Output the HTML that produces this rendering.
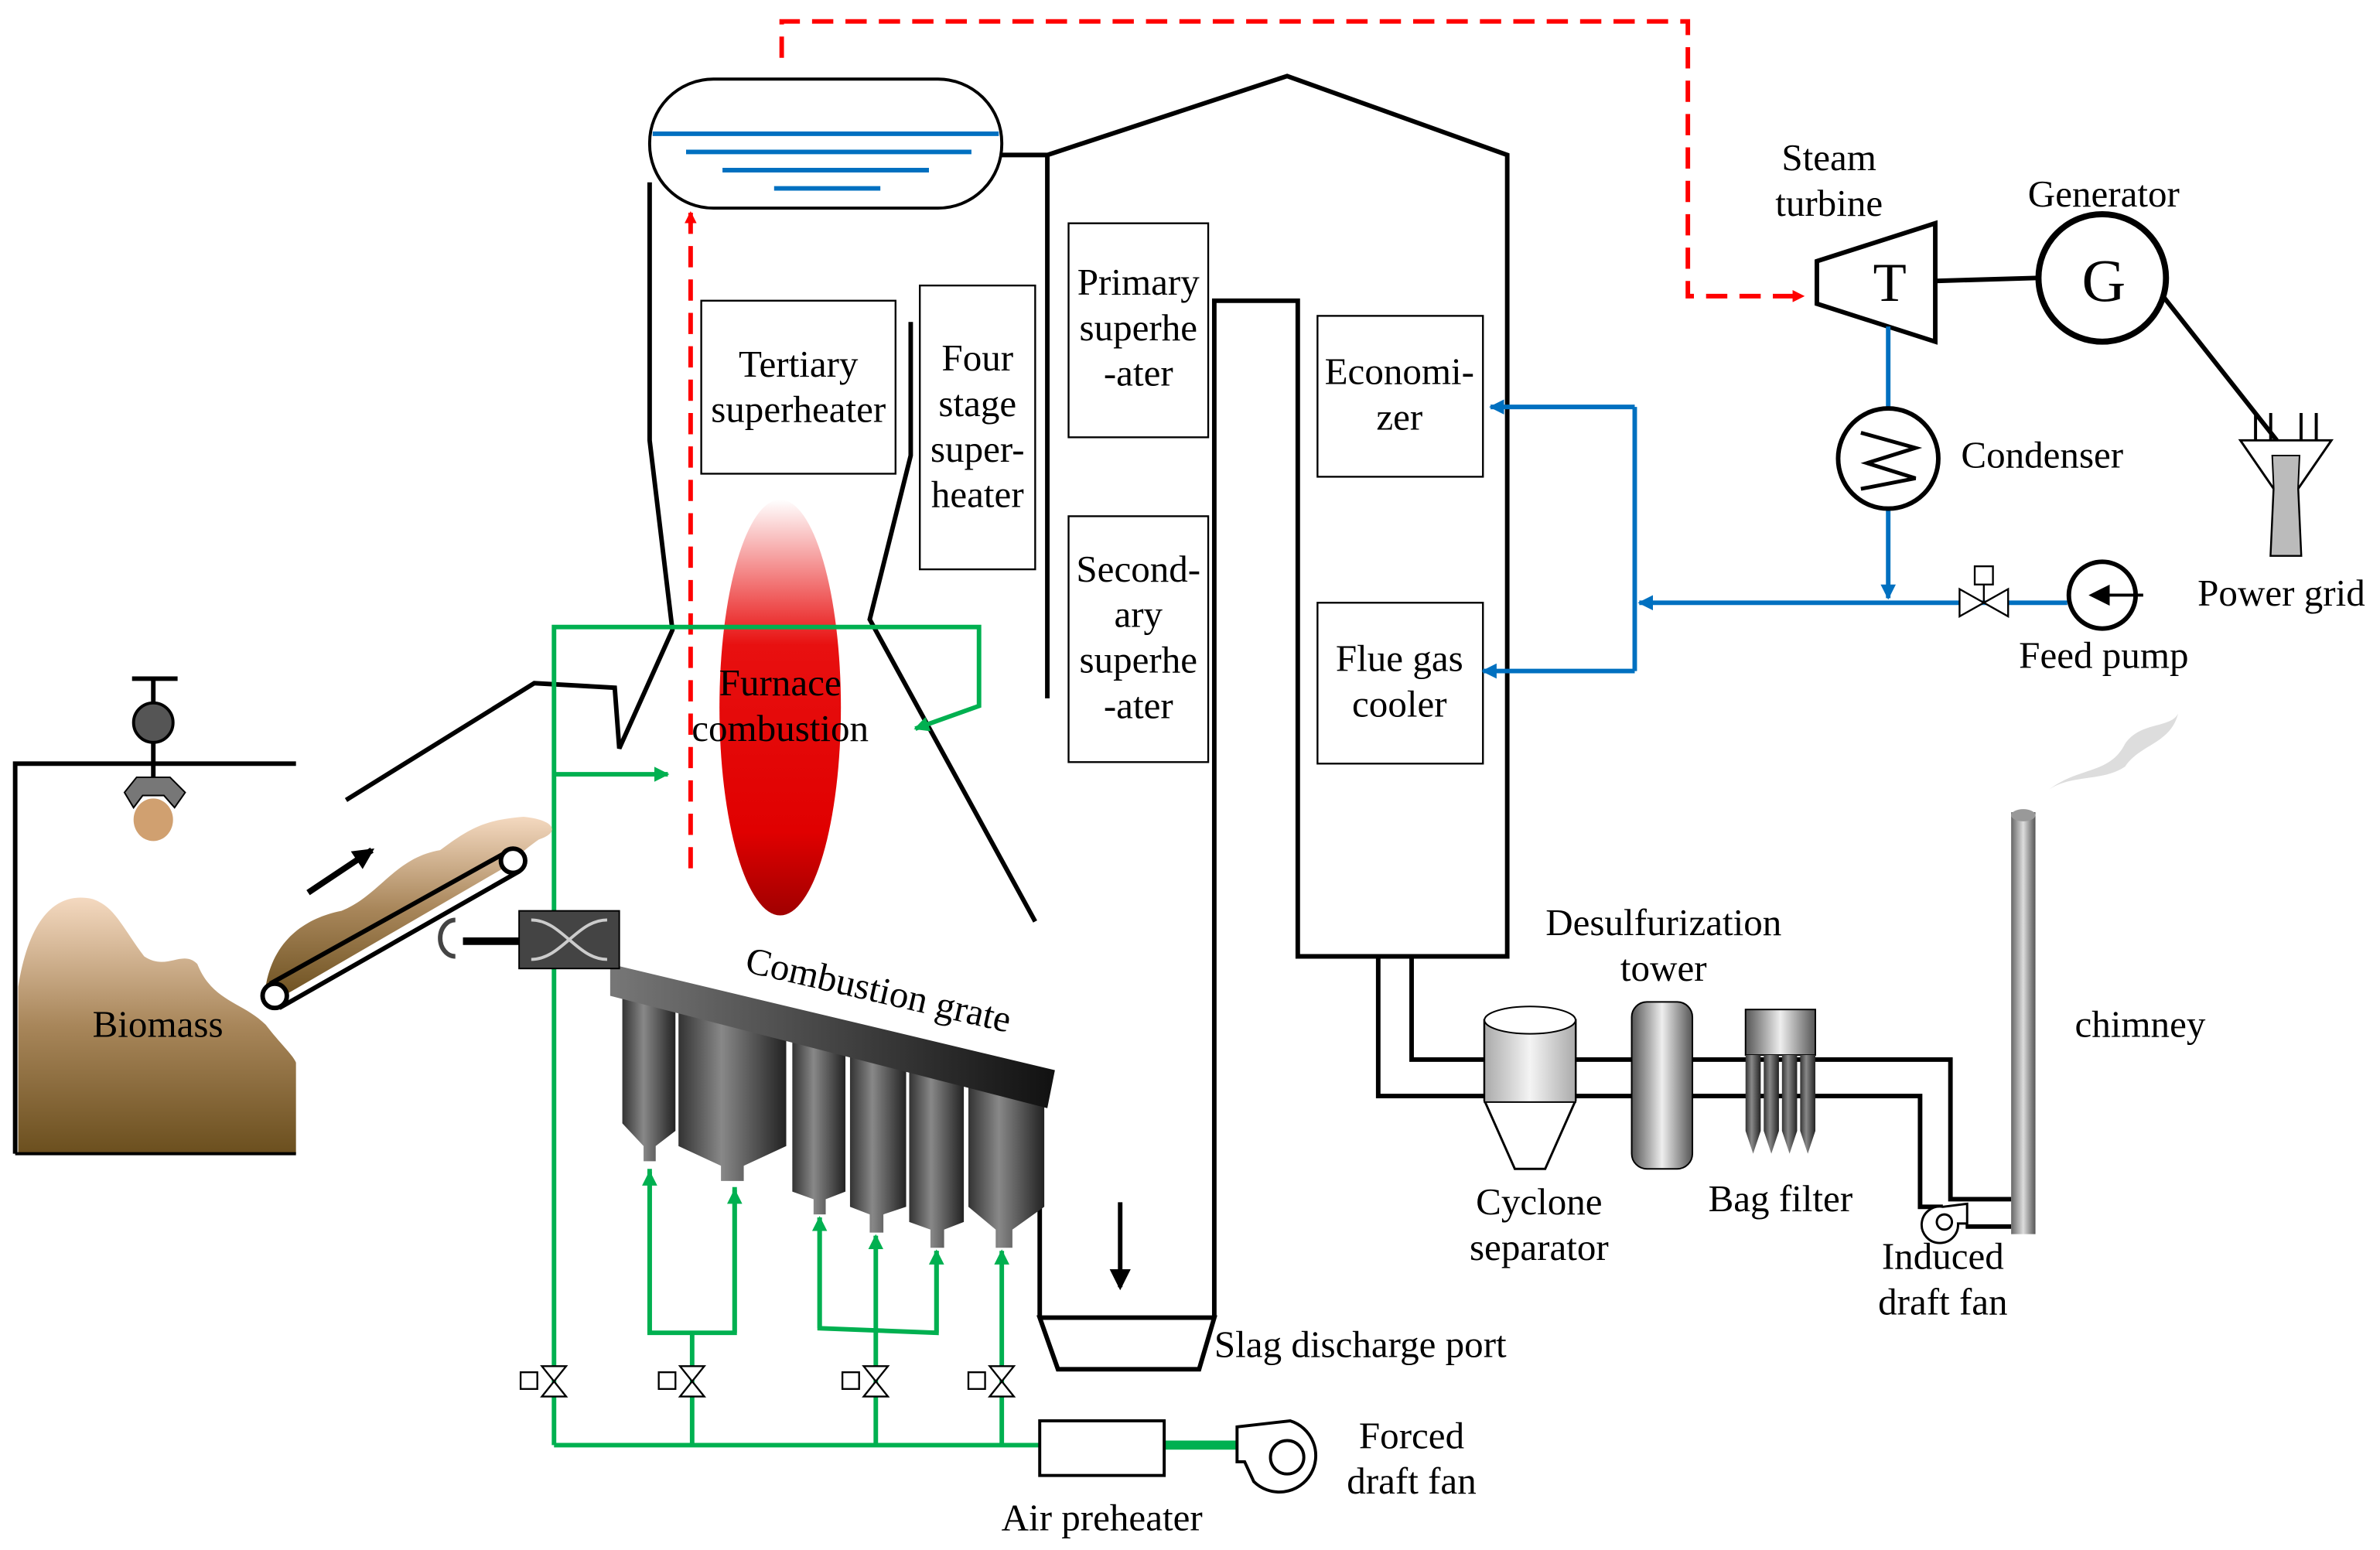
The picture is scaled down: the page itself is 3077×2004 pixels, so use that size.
<!DOCTYPE html>
<html><head><meta charset="utf-8"><style>html,body{margin:0;padding:0;background:#fff}svg{display:block}text{font-family:"Liberation Serif",serif;font-size:25px;fill:#000}</style></head><body>
<svg width="3077" height="2004" viewBox="0 0 1568 1021" xmlns="http://www.w3.org/2000/svg">
<defs>
<linearGradient id="fl" x1="0" y1="0" x2="0" y2="1"><stop offset="0" stop-color="#fff"/><stop offset="0.35" stop-color="#e81010"/><stop offset="0.8" stop-color="#e00000"/><stop offset="1" stop-color="#a00000"/></linearGradient>
<linearGradient id="hop" x1="0" y1="0" x2="1" y2="0"><stop offset="0" stop-color="#333"/><stop offset="0.4" stop-color="#888"/><stop offset="1" stop-color="#222"/></linearGradient>
<linearGradient id="gr" x1="0" y1="0" x2="1" y2="0"><stop offset="0" stop-color="#777"/><stop offset="1" stop-color="#111"/></linearGradient>
<linearGradient id="bio" x1="0" y1="0" x2="0" y2="1"><stop offset="0" stop-color="#f4d9c0"/><stop offset="0.5" stop-color="#a8865a"/><stop offset="1" stop-color="#6b4f1e"/></linearGradient>
<linearGradient id="ch" x1="0" y1="0" x2="1" y2="0"><stop offset="0" stop-color="#666"/><stop offset="0.5" stop-color="#ddd"/><stop offset="1" stop-color="#555"/></linearGradient>
<linearGradient id="cyl" x1="0" y1="0" x2="1" y2="0"><stop offset="0" stop-color="#555"/><stop offset="0.5" stop-color="#eee"/><stop offset="1" stop-color="#555"/></linearGradient>
<linearGradient id="cyl2" x1="0" y1="0" x2="1" y2="0"><stop offset="0" stop-color="#aaa"/><stop offset="0.5" stop-color="#f4f4f4"/><stop offset="1" stop-color="#aaa"/></linearGradient>
<marker id="ar" markerWidth="8" markerHeight="8" refX="7" refY="4" orient="auto" markerUnits="userSpaceOnUse"><path d="M0,0 L8,4 L0,8z" fill="#f00"/></marker>
<marker id="ag" markerWidth="10" markerHeight="10" refX="9" refY="5" orient="auto" markerUnits="userSpaceOnUse"><path d="M0,0 L10,5 L0,10z" fill="#00b050"/></marker>
<marker id="ab" markerWidth="10" markerHeight="10" refX="9" refY="5" orient="auto" markerUnits="userSpaceOnUse"><path d="M0,0 L10,5 L0,10z" fill="#0070c0"/></marker>
<marker id="ak" markerWidth="14" markerHeight="14" refX="12" refY="7" orient="auto" markerUnits="userSpaceOnUse"><path d="M0,0 L14,7 L0,14z" fill="#000"/></marker>
</defs>
<polyline points="515,38 515,14 1112,14 1112,195 1188,195" fill="none" stroke="#f00" stroke-width="3" stroke-dasharray="14,8" marker-end="url(#ar)"/>
<ellipse cx="514" cy="466" rx="40" ry="137" fill="url(#fl)"/>
<line x1="455" y1="572" x2="455" y2="140" stroke="#f00" stroke-width="3" stroke-dasharray="14,8" marker-end="url(#ar)"/>
<rect x="428" y="52" width="232" height="85" rx="42" fill="none" stroke="#000" stroke-width="2"/>
<g stroke="#0070c0" stroke-width="3"><line x1="430" y1="88" x2="658" y2="88"/><line x1="452" y1="100" x2="640" y2="100"/><line x1="476" y1="112" x2="612" y2="112"/><line x1="510" y1="124" x2="580" y2="124"/></g>
<g fill="none" stroke="#000" stroke-width="3">
<polyline points="428,120 428,290 443,415 408,493 405,453 352,450 228,527"/>
<polyline points="600,212 600,300 573,408 682,607"/>
<polyline points="660,102 690,102 848,50 993,102 993,630 855,630 855,198 800,198 800,868"/>
<line x1="690" y1="102" x2="690" y2="460"/>
<line x1="685" y1="725" x2="685" y2="868"/>
<polygon points="685,868 800,868 790,902 697,902"/>
</g>
<line x1="738" y1="792" x2="738" y2="848" stroke="#000" stroke-width="3" marker-end="url(#ak)"/>
<g fill="#fff" stroke="#000" stroke-width="1.2">
<rect x="462" y="198" width="128" height="114"/><rect x="606" y="188" width="76" height="187"/>
<rect x="704" y="147" width="92" height="141"/><rect x="704" y="340" width="92" height="162"/>
<rect x="868" y="208" width="109" height="106"/><rect x="868" y="397" width="109" height="106"/>
</g>
<g text-anchor="middle">
<text x="526" y="248">Tertiary</text><text x="526" y="278">superheater</text>
<text x="644" y="244">Four</text><text x="644" y="274">stage</text><text x="644" y="304">super-</text><text x="644" y="334">heater</text>
<text x="750" y="194">Primary</text><text x="750" y="224">superhe</text><text x="750" y="254">-ater</text>
<text x="750" y="383">Second-</text><text x="750" y="413">ary</text><text x="750" y="443">superhe</text><text x="750" y="473">-ater</text>
<text x="922" y="253">Economi-</text><text x="922" y="283">zer</text>
<text x="922" y="442">Flue gas</text><text x="922" y="472">cooler</text>
<text x="514" y="458">Furnace</text><text x="514" y="488">combustion</text>
</g>
<g fill="none" stroke="#00b050" stroke-width="3">
<polyline points="365,952 365,413 645,413 645,465 603,480" marker-end="url(#ag)"/>
<line x1="365" y1="510" x2="440" y2="510" marker-end="url(#ag)"/>
<line x1="365" y1="952" x2="685" y2="952"/>
<line x1="767" y1="952" x2="815" y2="952" stroke-width="6"/>
<line x1="456" y1="952" x2="456" y2="878"/><polyline points="428,770 428,878 484,878 484,782"/>
<line x1="428" y1="878" x2="428" y2="772" marker-end="url(#ag)"/><line x1="484" y1="878" x2="484" y2="784" marker-end="url(#ag)"/>
<line x1="577" y1="952" x2="577" y2="814" marker-end="url(#ag)"/>
<polyline points="540,802 540,875 617,878 617,824"/>
<line x1="540" y1="875" x2="540" y2="802" marker-end="url(#ag)"/><line x1="617" y1="878" x2="617" y2="824" marker-end="url(#ag)"/>
<line x1="660" y1="952" x2="660" y2="824" marker-end="url(#ag)"/>
</g>
<g fill="#fff" stroke="#000" stroke-width="1.2">
<g transform="translate(365,910)"><polygon points="-8,-10 8,-10 -8,10 8,10"/><rect x="-22" y="-6" width="11" height="11"/></g>
<g transform="translate(456,910)"><polygon points="-8,-10 8,-10 -8,10 8,10"/><rect x="-22" y="-6" width="11" height="11"/></g>
<g transform="translate(577,910)"><polygon points="-8,-10 8,-10 -8,10 8,10"/><rect x="-22" y="-6" width="11" height="11"/></g>
<g transform="translate(660,910)"><polygon points="-8,-10 8,-10 -8,10 8,10"/><rect x="-22" y="-6" width="11" height="11"/></g>
<rect x="685" y="936" width="82" height="36" stroke-width="2"/>
</g>
<g fill="#fff" stroke="#000" stroke-width="2"><path d="M815,940 L850,936 A24,24 0 1 1 826,976 L820,963 L815,963z"/><circle cx="848" cy="960" r="11"/></g>
<g fill="url(#hop)">
<path d="M410,655 L445,663 L445,745 L432,755 L432,765 L424,765 L424,755 L410,740z"/>
<path d="M447,663 L518,680 L518,755 L490,768 L490,778 L475,778 L475,768 L447,755z"/>
<path d="M522,682 L557,690 L557,785 L544,790 L544,800 L536,800 L536,790 L522,785z"/>
<path d="M560,692 L597,700 L597,795 L582,800 L582,812 L573,812 L573,800 L560,795z"/>
<path d="M599,702 L635,710 L635,805 L622,810 L622,822 L613,822 L613,810 L599,805z"/>
<path d="M638,712 L688,722 L688,795 L667,810 L667,822 L656,822 L656,810 L638,795z"/>
</g>
<polygon points="402,635 695,705 690,730 402,656" fill="url(#gr)"/>
<text x="490" y="640" transform="rotate(13 490 640)">Combustion grate</text>
<rect x="342" y="600" width="66" height="38" fill="#444" stroke="#000"/>
<path d="M350,606 C370,606 380,632 400,632 M350,632 C370,632 380,606 400,606" stroke="#ccc" fill="none" stroke-width="2"/>
<line x1="305" y1="620" x2="342" y2="620" stroke="#000" stroke-width="5"/>
<path d="M300,606 A10,12 0 1 0 300,630" fill="none" stroke="#444" stroke-width="3"/>
<path d="M12,760 L12,650 C20,600 40,588 60,592 C75,596 80,610 95,630 C110,640 120,625 130,635 C140,660 160,660 175,675 C185,688 193,695 195,700 L195,760z" fill="url(#bio)"/>
<polyline points="10,760 10,503 195,503" fill="none" stroke="#000" stroke-width="3"/>
<line x1="10" y1="760" x2="195" y2="760" stroke="#000" stroke-width="2"/>
<g stroke="#000" stroke-width="3"><line x1="101" y1="447" x2="101" y2="515"/><line x1="87" y1="447" x2="117" y2="447"/></g>
<circle cx="101" cy="476" r="13" fill="#555" stroke="#000" stroke-width="2"/>
<path d="M82,522 L90,512 L112,512 L122,522 L115,532 L108,524 L94,524 L88,532z" fill="#777" stroke="#000"/>
<ellipse cx="101" cy="540" rx="13" ry="14" fill="#d0a070"/>
<text x="104" y="683" text-anchor="middle">Biomass</text>
<path d="M175,650 C180,620 200,605 225,600 C250,590 260,565 290,560 C310,545 320,540 345,538 C365,540 370,548 355,553 C345,560 340,565 335,570 L180,660z" fill="url(#bio)"/>
<g fill="none" stroke="#000" stroke-width="3"><line x1="178" y1="648" x2="336" y2="560"/><line x1="184" y1="664" x2="342" y2="574"/></g>
<circle cx="181" cy="656" r="8" fill="#fff" stroke="#000" stroke-width="3"/><circle cx="338" cy="567" r="8" fill="#fff" stroke="#000" stroke-width="3"/>
<line x1="203" y1="588" x2="245" y2="560" stroke="#000" stroke-width="4" marker-end="url(#ak)"/>
<polygon points="1197,172 1275,147 1275,225 1197,200" fill="#fff" stroke="#000" stroke-width="3"/>
<text x="1245" y="198" text-anchor="middle" style="font-size:36px">T</text>
<line x1="1275" y1="185" x2="1343" y2="183" stroke="#000" stroke-width="3"/>
<circle cx="1385" cy="183" r="42" fill="#fff" stroke="#000" stroke-width="4"/>
<text x="1386" y="198" text-anchor="middle" style="font-size:40px">G</text>
<line x1="1425" y1="195" x2="1500" y2="290" stroke="#000" stroke-width="3"/>
<polygon points="1476,290 1536,290 1514,322 1516,366 1496,366 1498,322" fill="#fff" stroke="#000" stroke-width="1.5"/>
<polygon points="1497,300 1515,300 1514,322 1516,366 1496,366 1498,322" fill="#bbb" stroke="#000"/>
<g stroke="#000" stroke-width="2"><line x1="1486" y1="290" x2="1486" y2="272"/><line x1="1496" y1="290" x2="1496" y2="272"/><line x1="1516" y1="290" x2="1516" y2="272"/><line x1="1526" y1="290" x2="1526" y2="272"/></g>
<g fill="none" stroke="#0070c0" stroke-width="3">
<line x1="1244" y1="215" x2="1244" y2="270"/>
<line x1="1244" y1="335" x2="1244" y2="394" marker-end="url(#ab)"/>
<line x1="1362" y1="397" x2="1080" y2="397" marker-end="url(#ab)"/>
<line x1="1077" y1="268" x2="1077" y2="442"/>
<line x1="1077" y1="268" x2="982" y2="268" marker-end="url(#ab)"/>
<line x1="1077" y1="442" x2="977" y2="442" marker-end="url(#ab)"/>
</g>
<circle cx="1244" cy="302" r="33" fill="#fff" stroke="#000" stroke-width="3"/>
<polyline points="1226,285 1262,295 1230,305 1262,315 1226,322" fill="none" stroke="#000" stroke-width="2.5"/>
<g transform="translate(1307,397)" fill="#fff" stroke="#000" stroke-width="1.2"><polygon points="-16,-9 16,9 16,-9 -16,9"/><line x1="0" y1="0" x2="0" y2="-12"/><rect x="-6" y="-24" width="12" height="12"/></g>
<circle cx="1385" cy="392" r="22" fill="#fff" stroke="#000" stroke-width="3"/>
<line x1="1412" y1="392" x2="1378" y2="392" stroke="#000" stroke-width="2" marker-end="url(#ak)"/>
<text x="1205" y="112" text-anchor="middle">Steam</text><text x="1205" y="142" text-anchor="middle">turbine</text>
<text x="1386" y="136" text-anchor="middle">Generator</text>
<text x="1292" y="308">Condenser</text>
<text x="1503" y="399" text-anchor="middle">Power grid</text>
<text x="1386" y="440" text-anchor="middle">Feed pump</text>
<g fill="none" stroke="#000" stroke-width="3">
<polyline points="908,630 908,722 1265,722 1265,795 1280,795"/>
<polyline points="930,630 930,698 1285,698 1285,790 1295,790 1325,790"/>
<line x1="1295" y1="808" x2="1325" y2="808"/>
</g>
<path d="M978,672 L1038,672 L1038,725 L1018,770 L998,770 L978,725z" fill="#fff" stroke="#000" stroke-width="1.5"/>
<rect x="978" y="672" width="60" height="54" fill="url(#cyl2)" stroke="#000"/>
<ellipse cx="1008" cy="672" rx="30" ry="9" fill="#fff" stroke="#000"/>
<rect x="1075" y="660" width="40" height="110" rx="10" fill="url(#cyl)" stroke="#000"/>
<rect x="1150" y="665" width="46" height="30" fill="url(#cyl)" stroke="#000"/>
<g fill="url(#hop)"><path d="M1150,695 h10 v50 l-5,15 l-5,-15z"/><path d="M1162,695 h10 v50 l-5,15 l-5,-15z"/><path d="M1174,695 h10 v50 l-5,15 l-5,-15z"/><path d="M1186,695 h10 v50 l-5,15 l-5,-15z"/></g>
<g fill="#fff" stroke="#000" stroke-width="1.5"><path d="M1280,795 L1296,793 L1296,806 L1290,806 A12,12 0 1 1 1280,795z"/><circle cx="1281" cy="805" r="5"/></g>
<rect x="1325" y="535" width="16" height="278" fill="url(#ch)"/>
<ellipse cx="1333" cy="537" rx="8" ry="4" fill="#999"/>
<path d="M1350,520 C1370,505 1390,510 1400,490 C1410,475 1430,480 1435,470 C1430,490 1410,490 1400,505 C1385,515 1365,510 1350,520z" fill="#ddd"/>
<text x="1014" y="800" text-anchor="middle">Cyclone</text><text x="1014" y="830" text-anchor="middle">separator</text>
<text x="1096" y="616" text-anchor="middle">Desulfurization</text><text x="1096" y="646" text-anchor="middle">tower</text>
<text x="1173" y="798" text-anchor="middle">Bag filter</text>
<text x="1280" y="836" text-anchor="middle">Induced</text><text x="1280" y="866" text-anchor="middle">draft fan</text>
<text x="1410" y="683" text-anchor="middle">chimney</text>
<text x="800" y="894">Slag discharge port</text>
<text x="930" y="954" text-anchor="middle">Forced</text><text x="930" y="984" text-anchor="middle">draft fan</text>
<text x="726" y="1008" text-anchor="middle">Air preheater</text>
</svg>
</body></html>
